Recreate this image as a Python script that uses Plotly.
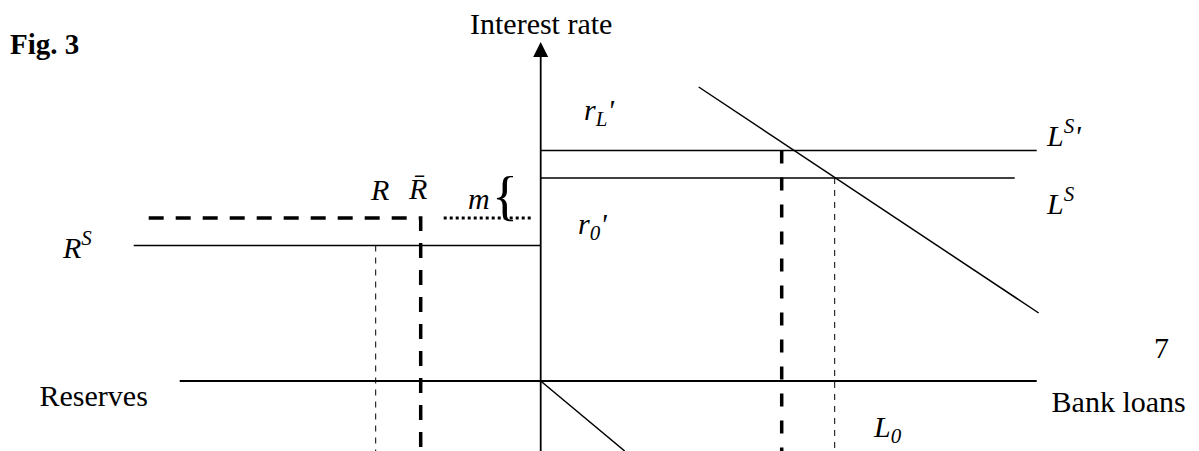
import plotly.graph_objects as go

# Diagram units: origin where the two axes cross, y up, roughly 1 unit per px
axis_x = [0, 0]
axis_y = [-70, 326]
arrow_tip = [0, 339]
base_axis_x = [-361, 496]
base_axis_y = [0, 0]

# loan supply curves (new and old)
ls_new_x = [0, 496]
ls_new_y = [230.5, 230.5]
ls_old_x = [0, 474]
ls_old_y = [203, 203]

# loan demand
demand_x = [158, 498]
demand_y = [294, 68]

# reserve supply and required reserves
rs_x = [-407, 0]
rs_y = [135.5, 135.5]
rbar_x = [-392, -120, -120]
rbar_y = [163, 163, -70]
margin_x = [-97, -7]
margin_y = [163, 163]
r_x = [-165, -165]
r_y = [135.5, -70]

# lower quadrant line
lower_x = [0, 84]
lower_y = [0, -70]

# loan quantities
l_new_x = [241, 241]
l_new_y = [230.5, -70]
l0_x = [294, 294]
l0_y = [203, -70]

FONT = "Liberation Serif, Times New Roman, serif"

fig = go.Figure()


def seg(x, y, width=1.5, dash="solid"):
    fig.add_trace(
        go.Scatter(
            x=x,
            y=y,
            mode="lines",
            line=dict(color="black", width=width, dash=dash),
            hoverinfo="skip",
            showlegend=False,
        )
    )


seg(axis_x, axis_y, 1.8)
seg(base_axis_x, base_axis_y, 2)
seg(ls_new_x, ls_new_y)
seg(ls_old_x, ls_old_y)
seg(demand_x, demand_y)
seg(rs_x, rs_y)
seg(lower_x, lower_y)
seg(rbar_x, rbar_y, 3.5, "15px,12px")
seg(margin_x, margin_y, 3, "dot")
seg(r_x, r_y, 1, "6px,6px")
seg(l_new_x, l_new_y, 3.5, "13px,14px")
seg(l0_x, l0_y, 1, "6px,6px")

fig.add_trace(
    go.Scatter(
        x=[arrow_tip[0]],
        y=[arrow_tip[1]],
        mode="markers",
        marker=dict(symbol="arrow-up", size=15, color="black", line=dict(width=0)),
        hoverinfo="skip",
        showlegend=False,
    )
)

# axis names as trace text so the cut-off bottom edge can be masked like the scan
fig.add_trace(
    go.Scatter(
        x=[-447, 578],
        y=[-17, -23],
        mode="text",
        text=["Reserves", "Bank loans"],
        textposition="middle center",
        textfont=dict(family=FONT, size=30, color="black"),
        hoverinfo="skip",
        showlegend=False,
    )
)
for x0, x1, top in [(-510, -380, -25), (505, 655, -32)]:
    fig.add_shape(
        type="rect", x0=x0, x1=x1, y0=top, y1=-50,
        fillcolor="white", line=dict(width=0), layer="above",
    )

labels = [
    ("<b>Fig. 3</b>", -496, 337, 29),
    ("Interest rate", 0, 358, 30),
    ("<i>r<sub>L</sub>'</i>", 58, 269, 30),
    ("<i>r<sub>0</sub>'</i>", 52, 155, 30),
    ("<i>R</i>", -161, 192, 30),
    ("<i>R\u0304</i>", -123, 193, 30),
    ("<i>m</i>", -62, 183, 30),
    ("{", -36, 185, 54),
    ("<i>R<sup>S</sup></i>", -464, 136, 30),
    ("7", 621, 34, 30),
    ("<i>L<sup>S</sup>'</i>", 523, 248, 30),
    ("<i>L<sup>S</sup></i>", 520, 180, 30),
    ("<i>L<sub>0</sub></i>", 347, -48, 30),
]
for text, x, y, size in labels:
    fig.add_annotation(
        x=x,
        y=y,
        text=text,
        showarrow=False,
        xanchor="center",
        yanchor="middle",
        font=dict(family=FONT, size=size, color="black"),
    )

# the page body has an 8px margin, so the figure is 8px smaller each way
fig.update_layout(
    width=1191,
    height=443,
    margin=dict(l=0, r=0, t=0, b=0),
    paper_bgcolor="white",
    plot_bgcolor="white",
    xaxis=dict(visible=False, range=[-532.7, 658.3], fixedrange=True),
    yaxis=dict(visible=False, range=[-70, 373], fixedrange=True),
)

fig.write_html("out.html")
